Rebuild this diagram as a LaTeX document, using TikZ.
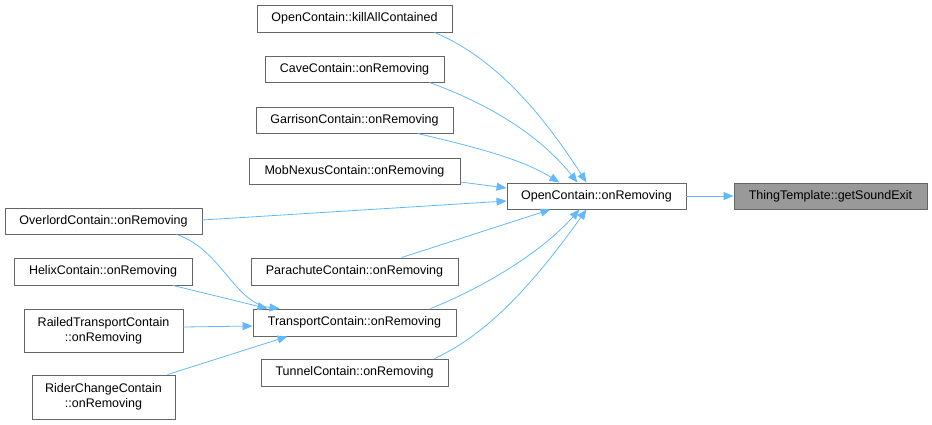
\documentclass[tikz,border=0pt]{standalone}
\usepackage{fontspec}
\setmainfont{Liberation Sans}
\usetikzlibrary{arrows.meta}
\definecolor{Edge}{HTML}{63B8FF}
\definecolor{Border}{HTML}{666666}
\definecolor{Grey}{HTML}{999999}
\tikzset{
  fn/.style={draw=Border,line width=0.9pt,fill=white,inner sep=1pt,align=center,
    font=\fontsize{12.5}{15}\selectfont},
  edge/.style={draw=Edge,line width=0.8pt,-{Triangle[length=10pt,width=8pt]}}
}
\begin{document}
\begin{tikzpicture}[x=1pt,y=-1pt]
\useasboundingbox (0,0) rectangle (932,424);
% callers of OpenContain::onRemoving
\node[fn,minimum width=195pt,minimum height=27pt] (kill) at (354.5,18.5) {OpenContain::killAllContained};
\node[fn,minimum width=179pt,minimum height=26pt] (cave) at (354.5,69) {CaveContain::onRemoving};
\node[fn,minimum width=197pt,minimum height=26pt] (garrison) at (354.5,120) {GarrisonContain::onRemoving};
\node[fn,minimum width=211pt,minimum height=26pt] (mobnexus) at (354.5,171) {MobNexusContain::onRemoving};
\node[fn,minimum width=197pt,minimum height=26pt] (overlord) at (103.5,221) {OverlordContain::onRemoving};
\node[fn,minimum width=207pt,minimum height=27pt] (parachute) at (354.5,271.5) {ParachuteContain::onRemoving};
\node[fn,minimum width=203pt,minimum height=27pt] (transport) at (354.5,322.5) {TransportContain::onRemoving};
\node[fn,minimum width=187pt,minimum height=27pt] (tunnel) at (354.5,372.5) {TunnelContain::onRemoving};
% callers of TransportContain::onRemoving
\node[fn,minimum width=178pt,minimum height=27pt] (helix) at (103,271.5) {HelixContain::onRemoving};
\node[fn,minimum width=159pt,minimum height=43pt] (railed) at (103.5,330.5) {RailedTransportContain\\::onRemoving};
\node[fn,minimum width=143pt,minimum height=44pt] (rider) at (103.5,397) {RiderChangeContain\\::onRemoving};
% centre and target
\node[fn,minimum width=179pt,minimum height=26pt] (open) at (596.5,196) {OpenContain::onRemoving};
\node[fn,fill=Grey,minimum width=193pt,minimum height=26pt] (thing) at (830.5,196) {ThingTemplate::getSoundExit};

\draw[edge] (open.east) -- (thing.west);
\draw[edge] ([xshift=80pt]kill.south) .. controls +(60,25) and +(-45,-70) .. ([xshift=-10pt]open.north);
\draw[edge] ([xshift=75pt]cave.south) .. controls +(55,20) and +(-40,-50) .. ([xshift=-19pt]open.north);
\draw[edge] ([xshift=63pt]garrison.south) .. controls +(50,12) and +(-40,-25) .. ([xshift=-37pt]open.north);
\draw[edge] ([yshift=-11pt]mobnexus.east) -- ([yshift=8pt]open.west);
\draw[edge] ([yshift=1pt]overlord.east) -- ([yshift=-5pt]open.west);
\draw[edge] ([xshift=47pt]parachute.north) -- ([xshift=-46pt]open.south);
\draw[edge] ([xshift=76pt]transport.north) .. controls +(50,-20) and +(-40,45) .. ([xshift=-17pt]open.south);
\draw[edge] ([xshift=80pt]tunnel.north) .. controls +(55,-25) and +(-50,70) .. ([xshift=-10pt]open.south);

\draw[edge] ([xshift=73pt]overlord.south) .. controls +(45,15) and +(-45,-5) .. ([xshift=-75pt]transport.north);
\draw[edge] ([xshift=70pt]helix.south) -- ([xshift=-87pt]transport.north);
\draw[edge] ([yshift=3.5pt]railed.east) -- ([yshift=-3.5pt]transport.west);
\draw[edge] ([xshift=64pt]rider.north) -- ([xshift=-67pt]transport.south);
\end{tikzpicture}
\end{document}
